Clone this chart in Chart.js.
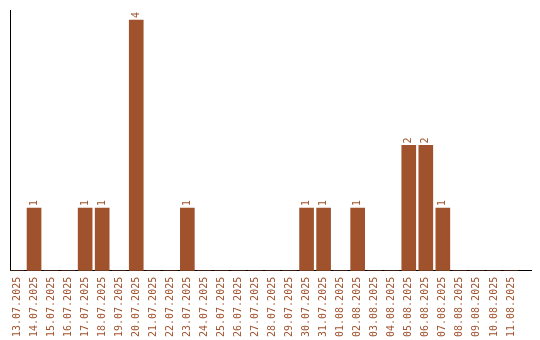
<!DOCTYPE html>
<html lang="de">
<head>
    <meta charset="UTF-8">
    <title>Einträge pro Tag</title>
    <style>
        html, body { margin: 0; padding: 0; background: #fff; }
        #wrap { width: 540px; height: 340px; }
    </style>
</head>
<body>
<div id="wrap"><canvas id="chart" width="540" height="340"></canvas></div>

<script src="https://cdn.jsdelivr.net/npm/chart.js@4.4.1/dist/chart.umd.min.js"></script>
<script>
const dates = [
    "13.07.2025", "14.07.2025", "15.07.2025", "16.07.2025", "17.07.2025",
    "18.07.2025", "19.07.2025", "20.07.2025", "21.07.2025", "22.07.2025",
    "23.07.2025", "24.07.2025", "25.07.2025", "26.07.2025", "27.07.2025",
    "28.07.2025", "29.07.2025", "30.07.2025", "31.07.2025", "01.08.2025",
    "02.08.2025", "03.08.2025", "04.08.2025", "05.08.2025", "06.08.2025",
    "07.08.2025", "08.08.2025", "09.08.2025", "10.08.2025", "11.08.2025"
];
const counts = [0, 1, 0, 0, 1, 1, 0, 4, 0, 0, 1, 0, 0, 0, 0, 0, 0, 1, 1, 0, 1, 0, 0, 2, 2, 1, 0, 0, 0, 0];

const BROWN = "#a0522d";
const MONO = "'DejaVu Sans Mono', monospace";

// value labels above bars, rotated like the axis labels
const valueLabels = {
    id: "valueLabels",
    afterDatasetsDraw(chart) {
        const ctx = chart.ctx;
        const meta = chart.getDatasetMeta(0);
        ctx.save();
        ctx.fillStyle = BROWN;
        ctx.font = "10px " + MONO;
        ctx.textAlign = "left";
        ctx.textBaseline = "middle";
        meta.data.forEach((bar, i) => {
            if (!counts[i]) return;
            ctx.save();
            ctx.translate(bar.x, bar.y - 2);
            ctx.rotate(-Math.PI / 2);
            ctx.fillText(String(counts[i]), 0, 0);
            ctx.restore();
        });
        ctx.restore();
    }
};

new Chart(document.getElementById("chart"), {
    type: "bar",
    data: {
        datasets: [{
            data: counts.map((v, i) => ({ x: i, y: v })),
            backgroundColor: BROWN,
            borderWidth: 0,
            barThickness: 14
        }]
    },
    options: {
        responsive: false,
        animation: false,
        layout: { padding: { top: 10, left: 10, right: 9, bottom: -3 } },
        plugins: { legend: { display: false }, tooltip: { enabled: false } },
        scales: {
            x: {
                type: "linear",
                offset: false,
                min: -7 / 17,
                max: 30.176,
                grid: { display: false, drawTicks: false, offset: false },
                border: { color: "#000", width: 1 },
                afterBuildTicks: s => { s.ticks = dates.map((d, i) => ({ value: i })); },
                ticks: {
                    color: BROWN,
                    font: { family: MONO, size: 10 },
                    minRotation: 90,
                    maxRotation: 90,
                    padding: 6,
                    autoSkip: false,
                    callback: v => dates[v] ?? ""
                }
            },
            y: {
                min: 0,
                max: 4.16,
                grid: { display: false, drawTicks: false },
                border: { color: "#000", width: 1 },
                ticks: { display: false }
            }
        }
    },
    plugins: [valueLabels]
});
</script>
</body>
</html>
